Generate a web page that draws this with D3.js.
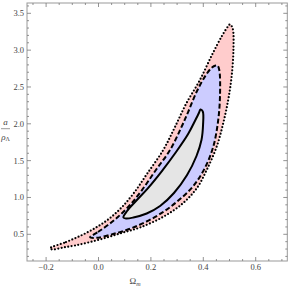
<!DOCTYPE html>
<head>
<meta charset="utf-8">
<script src="https://d3js.org/d3.v7.min.js"></script>
<style>
  body { margin: 0; background: #fff; }
  svg { display: block; }
  .tick-label { font-family: "Liberation Serif", serif; font-size: 8.5px; fill: #444; }
</style>
</head>
<body>
<svg></svg>
<script>
var width = 289, height = 287;

// contour outlines, [Omega_m, a/rho_Lambda]
var outer = [[-0.185,0.310],[-0.124,0.395],[-0.063,0.490],[-0.006,0.599],[0.044,0.721],[0.090,0.871],
  [0.135,1.061],[0.185,1.319],[0.247,1.644],[0.290,1.943],[0.334,2.269],[0.387,2.595],[0.433,2.934],
  [0.471,3.192],[0.494,3.321],[0.502,3.350],[0.512,3.296],[0.515,3.002],[0.508,2.639],[0.495,2.323],
  [0.476,2.007],[0.451,1.689],[0.413,1.373],[0.375,1.124],[0.319,0.911],[0.246,0.735],[0.158,0.592],
  [0.094,0.524],[0.032,0.457],[-0.032,0.395],[-0.090,0.348],[-0.135,0.321],[-0.177,0.294]];
var middle = [[-0.032,0.459],[-0.002,0.531],[0.036,0.626],[0.074,0.735],[0.120,0.898],[0.166,1.101],
  [0.219,1.373],[0.273,1.644],[0.315,1.943],[0.342,2.160],[0.376,2.445],[0.410,2.663],[0.433,2.764],
  [0.447,2.791],[0.454,2.791],[0.461,2.730],[0.464,2.414],[0.457,2.052],[0.438,1.689],[0.406,1.400],
  [0.362,1.156],[0.298,0.938],[0.222,0.748],[0.133,0.592],[0.056,0.504],[-0.007,0.452]];
var inner = [[0.095,0.728],[0.109,0.816],[0.143,0.952],[0.189,1.128],[0.242,1.359],[0.296,1.617],
  [0.342,1.861],[0.368,2.038],[0.384,2.153],[0.389,2.194],[0.398,2.167],[0.399,1.984],[0.393,1.780],
  [0.374,1.563],[0.338,1.305],[0.288,1.061],[0.235,0.884],[0.184,0.782],[0.133,0.728],[0.105,0.714]];

var xTicks = [-0.2, 0.0, 0.2, 0.4, 0.6];
var yTicks = [0.5, 1.0, 1.5, 2.0, 2.5, 3.0, 3.5];

var svg = d3.select("svg").attr("width", width).attr("height", height);

var fLeft = 27, fRight = 287.3, fTop = 3, fBottom = 261;
var x = d3.scaleLinear().domain([-0.2729, 0.7206]).range([fLeft, fRight]);
var y = d3.scaleLinear().domain([0.1376, 3.640]).range([fBottom, fTop]);

var line = d3.line().x(function(d){ return x(d[0]); }).y(function(d){ return y(d[1]); })
  .curve(d3.curveCatmullRomClosed.alpha(0.5));

// regions, outermost first
svg.append("path").attr("d", line(outer)).attr("fill", "#ffcccc").attr("stroke", "none");
svg.append("path").attr("d", line(middle)).attr("fill", "#ccccff").attr("stroke", "none");
svg.append("path").attr("d", line(inner)).attr("fill", "#e5e5e5").attr("stroke", "none");

svg.append("path").attr("d", line(outer)).attr("fill", "none").attr("stroke", "#000")
  .attr("stroke-width", 2.2).attr("stroke-linecap", "round").attr("stroke-dasharray", "0,3.4");
svg.append("path").attr("d", line(middle)).attr("fill", "none").attr("stroke", "#000")
  .attr("stroke-width", 2).attr("stroke-dasharray", "5,2.5");
svg.append("path").attr("d", line(inner)).attr("fill", "none").attr("stroke", "#000")
  .attr("stroke-width", 2);

// frame and ticks
var frame = svg.append("g");
frame.append("rect").attr("x", fLeft).attr("y", fTop).attr("width", fRight - fLeft).attr("height", fBottom - fTop)
  .attr("fill", "none").attr("stroke", "#999").attr("stroke-width", 1);

var xMinor = d3.range(-0.25, 0.72, 0.05).filter(function(v){ return Math.abs(Math.round(v*5) - v*5) > 1e-6; });
var yMinor = d3.range(0.2, 3.64, 0.1).filter(function(v){ return Math.abs(Math.round(v*2) - v*2) > 1e-6; });

function xt(vals, len) {
  vals.forEach(function(v){
    frame.append("line").attr("x1", x(v)).attr("x2", x(v)).attr("y1", fBottom).attr("y2", fBottom - len).attr("stroke", "#777").attr("stroke-width", 0.8);
    frame.append("line").attr("x1", x(v)).attr("x2", x(v)).attr("y1", fTop).attr("y2", fTop + len).attr("stroke", "#777").attr("stroke-width", 0.8);
  });
}
function yt(vals, len) {
  vals.forEach(function(v){
    frame.append("line").attr("y1", y(v)).attr("y2", y(v)).attr("x1", fLeft).attr("x2", fLeft + len).attr("stroke", "#777").attr("stroke-width", 0.8);
    frame.append("line").attr("y1", y(v)).attr("y2", y(v)).attr("x1", fRight).attr("x2", fRight - len).attr("stroke", "#777").attr("stroke-width", 0.8);
  });
}
xt(xTicks, 4); xt(xMinor, 2);
yt(yTicks, 4); yt(yMinor, 2);

svg.selectAll(".xl").data(xTicks).enter().append("text").attr("class", "tick-label")
  .attr("x", function(d){ return x(d); }).attr("y", 270).attr("text-anchor", "middle")
  .text(function(d){ return d3.format(".1f")(d).replace("-", "\u2212"); });
svg.selectAll(".yl").data(yTicks).enter().append("text").attr("class", "tick-label")
  .attr("x", 24).attr("y", function(d){ return y(d) + 3; }).attr("text-anchor", "end")
  .text(function(d){ return d3.format(".1f")(d); });

// axis titles
var xt2 = svg.append("text").attr("class", "tick-label").attr("x", 135).attr("y", 284).attr("text-anchor", "middle")
  .style("font-size", "9px");
xt2.append("tspan").text("\u03A9");
xt2.append("tspan").attr("dy", 2).style("font-size", "6px").style("font-style", "italic").text("m");

svg.append("text").attr("class", "tick-label").attr("x", 5.5).attr("y", 124.5).attr("text-anchor", "middle")
  .style("font-style", "italic").style("font-size", "9px").text("a");
svg.append("line").attr("x1", 1).attr("x2", 10).attr("y1", 128.7).attr("y2", 128.7).attr("stroke", "#555").attr("stroke-width", 0.6);
var yl = svg.append("text").attr("class", "tick-label").attr("x", 5.5).attr("y", 139.5).attr("text-anchor", "middle")
  .style("font-size", "9px");
yl.append("tspan").style("font-style", "italic").text("\u03C1");
yl.append("tspan").attr("dy", 1.5).style("font-size", "6px").text("\u039B");
</script>
</body>
